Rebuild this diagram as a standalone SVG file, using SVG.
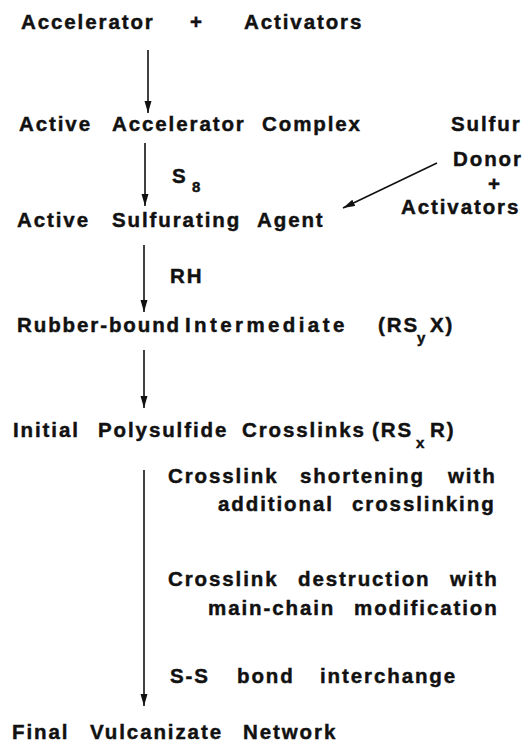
<svg xmlns="http://www.w3.org/2000/svg" width="525" height="749" viewBox="0 0 525 749">
  <style>
    text { font-family: "Liberation Sans", Arial, sans-serif; font-weight: bold; font-size: 20.5px; letter-spacing: 1.9px; fill: #111; stroke: #111; stroke-width: 0.45; }
    .sub { font-size: 15px; letter-spacing: 1px; }
    .wide { letter-spacing: 3.4px; }
    .conn { stroke: #111; stroke-width: 1.6; fill: none; }
  </style>
  <defs>
    <marker id="head" markerUnits="userSpaceOnUse" markerWidth="13" markerHeight="8" refX="12" refY="3.5" orient="auto">
      <path d="M0,0 L12,3.5 L0,7 Z" fill="#111"/>
    </marker>
  </defs>
  <rect width="525" height="749" fill="#fff"/>

  <!-- reaction steps; each word placed on its own x -->
  <g id="reactants">
    <text y="29"><tspan x="21">Accelerator</tspan><tspan x="190">+</tspan><tspan x="244">Activators</tspan></text>
  </g>

  <g id="active-complex">
    <text y="131"><tspan x="19">Active</tspan><tspan x="112">Accelerator</tspan><tspan x="262">Complex</tspan></text>
  </g>

  <g id="sulfur-donor">
    <text x="451" y="131">Sulfur</text>
    <text x="453" y="166">Donor</text>
    <text x="488" y="191">+</text>
    <text x="401" y="214">Activators</text>
  </g>

  <g id="sulfurating-agent">
    <text y="227"><tspan x="17">Active</tspan><tspan x="112">Sulfurating</tspan><tspan x="257">Agent</tspan></text>
  </g>

  <g id="rubber-bound">
    <text y="332"><tspan x="17">Rubber-bound</tspan><tspan class="wide" x="185">Intermediate</tspan><tspan x="378">(RS</tspan></text>
    <text class="sub" x="417" y="343">y</text>
    <text x="430" y="332">X)</text>
  </g>

  <g id="polysulfide">
    <text y="437"><tspan x="13">Initial</tspan><tspan x="98">Polysulfide</tspan><tspan x="242">Crosslinks</tspan><tspan x="372">(RS</tspan></text>
    <text class="sub" x="416" y="448">x</text>
    <text x="430" y="437">R)</text>
  </g>

  <g id="network">
    <text y="739"><tspan x="12">Final</tspan><tspan x="90">Vulcanizate</tspan><tspan x="243">Network</tspan></text>
  </g>

  <!-- step labels -->
  <g id="labels">
    <text x="172" y="183">S</text>
    <text class="sub" x="192" y="192">8</text>
    <text x="170" y="283">RH</text>
    <text y="483"><tspan x="168">Crosslink</tspan><tspan x="300">shortening</tspan><tspan x="448">with</tspan></text>
    <text y="511"><tspan x="218">additional</tspan><tspan x="352">crosslinking</tspan></text>
    <text y="586"><tspan x="168">Crosslink</tspan><tspan x="298">destruction</tspan><tspan x="450">with</tspan></text>
    <text y="615"><tspan x="208">main-chain</tspan><tspan x="354">modification</tspan></text>
    <text y="683"><tspan x="170">S-S</tspan><tspan x="237">bond</tspan><tspan x="320">interchange</tspan></text>
  </g>

  <g id="connectors">
    <line class="conn" x1="148" y1="50" x2="148" y2="113" marker-end="url(#head)"/>
    <line class="conn" x1="145" y1="143" x2="145" y2="206" marker-end="url(#head)"/>
    <line class="conn" x1="437" y1="163" x2="343" y2="208" marker-end="url(#head)"/>
    <line class="conn" x1="144" y1="245" x2="144" y2="312" marker-end="url(#head)"/>
    <line class="conn" x1="144" y1="350" x2="144" y2="408" marker-end="url(#head)"/>
    <line class="conn" x1="144" y1="470" x2="144" y2="706" marker-end="url(#head)"/>
  </g>
</svg>
